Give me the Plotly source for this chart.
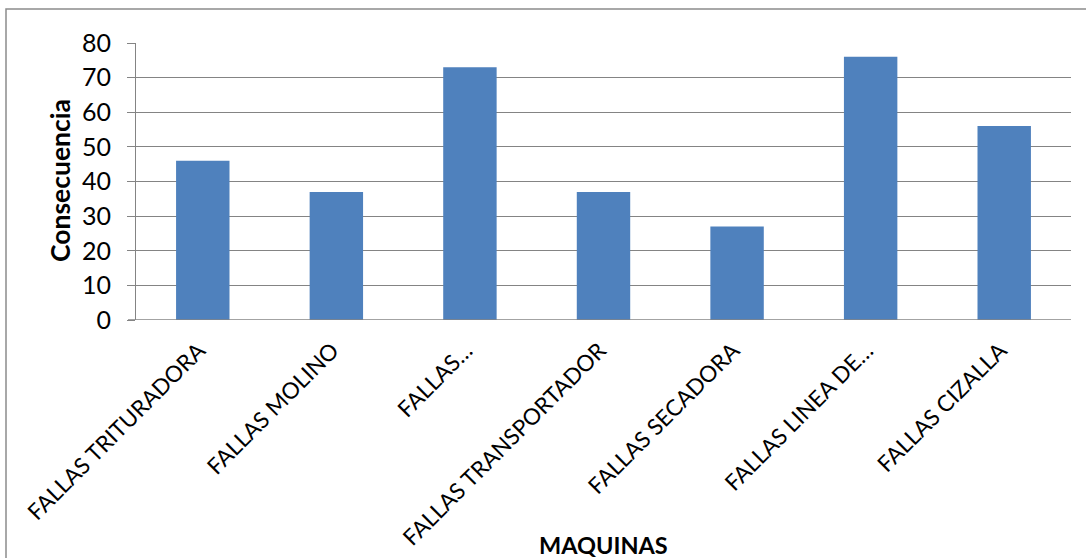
import plotly.graph_objects as go

# Consequence score per machine failure group
maquinas = [
    "FALLAS TRITURADORA",
    "FALLAS MOLINO",
    "FALLAS…",
    "FALLAS TRANSPORTADOR",
    "FALLAS SECADORA",
    "FALLAS LINEA DE…",
    "FALLAS CIZALLA",
]
consecuencia = [46, 37, 73, 37, 27, 76, 56]
y_ticks = [0, 10, 20, 30, 40, 50, 60, 70, 80]

W, H = 1086, 558
L, R, T, B = 136, 15, 43, 238
pw, ph = W - L - R, H - T - B

FONT = "Lato, Carlito, Calibri, sans-serif"
GRID = "#848484"

fig = go.Figure(
    go.Bar(
        x=maquinas,
        y=consecuencia,
        marker=dict(color="#4F81BD", line=dict(width=0)),
    )
)

fig.update_layout(
    width=W,
    height=H,
    margin=dict(l=L, r=R, t=T, b=B, autoexpand=False),
    paper_bgcolor="white",
    plot_bgcolor="white",
    bargap=0.6,
    showlegend=False,
    font=dict(family=FONT, color="black"),
)

fig.update_xaxes(
    tickangle=-45,
    tickfont=dict(size=22.5, family=FONT, color="black"),
    showgrid=False,
    showline=False,
    ticks="",
    ticklabelstandoff=12,
    ticklabelshift=-4,
    automargin=False,
)

fig.update_yaxes(
    range=[0, 80],
    tickvals=y_ticks,
    tickfont=dict(size=25, family=FONT, color="black"),
    showgrid=True,
    gridcolor=GRID,
    gridwidth=1.2,
    showline=True,
    linecolor=GRID,
    linewidth=1.2,
    ticks="outside",
    ticklen=8,
    tickcolor=GRID,
    tickwidth=1.2,
    ticklabelstandoff=11,
    zeroline=False,
    automargin=False,
)

# Horizontal axis baseline drawn across the full plot width
fig.add_shape(
    type="line", xref="paper", yref="y",
    x0=-8 / pw, x1=1, y0=0, y1=0,
    line=dict(color=GRID, width=1.5),
)

# Outer chart border (left and top edges fall inside the page)
fig.add_shape(
    type="rect", xref="paper", yref="paper",
    x0=(6 - L) / pw, x1=(W + 10 - L) / pw,
    y0=-(H + 10 - T - ph) / ph, y1=1 + (T - 9) / ph,
    line=dict(color="#8c8c8c", width=1.5),
    fillcolor="rgba(0,0,0,0)",
    layer="below",
)

fig.add_annotation(
    text="<b>Consecuencia</b>",
    xref="paper", yref="paper",
    x=(60 - L) / pw, y=(T + ph - 181) / ph,
    xanchor="center", yanchor="middle",
    textangle=-90,
    showarrow=False,
    font=dict(size=26.5, family=FONT, color="black"),
)

fig.add_annotation(
    text="<b>MAQUINAS</b>",
    xref="paper", yref="paper",
    x=(603 - L) / pw, y=-(545 - (T + ph)) / ph,
    xanchor="center", yanchor="middle",
    showarrow=False,
    font=dict(size=23.5, family=FONT, color="black"),
)

fig.write_html("out.html")
